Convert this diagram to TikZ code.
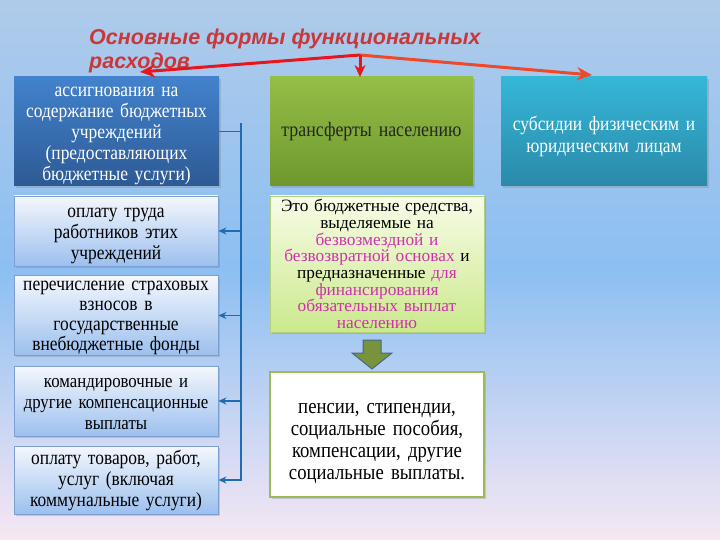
\documentclass[tikz,border=0pt]{standalone}
\usepackage{fontspec}
\setmainfont{Liberation Serif}
\newfontfamily\tall{Liberation Serif}[FakeStretch=0.87, WordSpace=0.8]
\newfontfamily\titlefont{Liberation Sans}
\usetikzlibrary{arrows.meta,shadows}
\definecolor{bgtop}{HTML}{AFCBEA}
\definecolor{bgmid}{HTML}{8CBFF2}
\definecolor{bgbot}{HTML}{F6E7F3}
\definecolor{titlered}{HTML}{C8383A}
\definecolor{redarrow}{HTML}{E8151D}
\definecolor{orarrow}{HTML}{EE4A2A}
\definecolor{blueA}{HTML}{4282CD}
\definecolor{blueAb}{HTML}{2D5A94}
\definecolor{greenT}{HTML}{94BE47}
\definecolor{greenB}{HTML}{6E982D}
\definecolor{tealT}{HTML}{35B7D8}
\definecolor{tealB}{HTML}{2B89A9}
\definecolor{lbT}{HTML}{F4F7FD}
\definecolor{lbB}{HTML}{9CC0EE}
\definecolor{lbBorder}{HTML}{7C9FD0}
\definecolor{lgT}{HTML}{F8FCE8}
\definecolor{lgB}{HTML}{CBE98C}
\definecolor{lgBorder}{HTML}{B3D07A}
\definecolor{wBorder}{HTML}{9BBB59}
\definecolor{conn}{HTML}{1F6CB5}
\definecolor{mag}{HTML}{D030B0}
\definecolor{barrow}{HTML}{77933C}
\definecolor{barrowB}{HTML}{44678A}
\newcommand{\topstrut}[1]{\rule{0pt}{#1}}
\tikzset{
  box/.style={rectangle, inner xsep=2pt, inner ysep=0pt, align=center,
    drop shadow={shadow xshift=2pt, shadow yshift=-2pt, opacity=0.3}},
  darkbox/.style={box, text=white},
  lightbox/.style={box, draw=lbBorder, line width=0.8pt, top color=lbT, bottom color=lbB,
    text width=200pt, minimum width=204pt, font=\tall\fontsize{20}{21}\selectfont},
  connline/.style={draw=conn, line width=2pt},
  connarrow/.style={draw=conn, line width=1.6pt, -{Stealth[length=8pt,width=7pt]}},
  redarr/.style={line width=3pt, -{Stealth[length=15pt,width=13pt]}}
}
\begin{document}
\begin{tikzpicture}[x=1pt,y=-1pt]
\useasboundingbox (0,0) rectangle (720,540);
\shade[top color=bgtop, bottom color=bgbot, middle color=bgmid] (0,0) rectangle (720,540);

% title
\node[anchor=north west, inner sep=0pt, align=left, text=titlered,
  font=\titlefont\bfseries\itshape\fontsize{21.5}{24}\selectfont] (title) at (89,29)
  {Основные формы функциональных\\расходов};

% top boxes
\node[darkbox, top color=blueA, bottom color=blueAb, minimum width=205pt, minimum height=109pt, text width=201pt,
  font=\tall\fontsize{20}{21}\selectfont] (A) at (116.5,131.5)
  {\topstrut{18pt}ассигнования на\\содержание бюджетных\\учреждений\\(предоставляющих\\бюджетные услуги)};
\node[darkbox, top color=greenT, bottom color=greenB, minimum width=203pt, minimum height=109pt, text width=199pt, text=black!85,
  font=\tall\fontsize{20.5}{22}\selectfont] (G) at (371.5,131.5)
  {трансферты населению};
\node[darkbox, top color=tealT, bottom color=tealB, minimum width=206pt, minimum height=109pt, text width=202pt,
  font=\tall\fontsize{20}{22}\selectfont] (T) at (604,131.5)
  {\topstrut{23.5pt}субсидии физическим и\\юридическим лицам};

% left boxes
\node[lightbox, minimum height=70pt] (L1) at (116,231) {\topstrut{19pt}оплату труда\\работников этих\\учреждений};
\node[lightbox, minimum height=79pt, font=\tall\fontsize{20}{20}\selectfont] (L2) at (116,315.5) {\topstrut{15pt}перечисление страховых\\взносов в\\государственные\\внебюджетные фонды};
\node[lightbox, minimum height=70pt, font=\tall\fontsize{19.3}{21}\selectfont] (L3) at (116,401) {\topstrut{16pt}командировочные и\\другие компенсационные\\выплаты};
\node[lightbox, minimum height=68pt] (L4) at (116,480) {оплату товаров, работ,\\услуг (включая\\коммунальные услуги)};

% middle boxes
\node[box, draw=lgBorder, line width=0.8pt, top color=lgT, bottom color=lgB, minimum width=214pt, minimum height=136pt, text width=210pt,
  font=\fontsize{17.3}{16.7}\selectfont] (LG) at (377,264)
  {Это бюджетные средства,\\выделяемые на\\\textcolor{mag}{безвозмездной и}\\\textcolor{mag}{безвозвратной основах} и\\предназначенные \textcolor{mag}{для}\\\textcolor{mag}{финансирования}\\\textcolor{mag}{обязательных выплат}\\\textcolor{mag}{населению}};
\node[box, draw=wBorder, line width=2pt, fill=white, minimum width=214pt, minimum height=125pt, text width=210pt,
  font=\tall\fontsize{21.5}{22}\selectfont] (W) at (377,434.5)
  {\topstrut{28pt}пенсии, стипендии,\\социальные пособия,\\компенсации, другие\\социальные выплаты.};

% block arrow
\draw[fill=barrow, draw=barrowB, line width=1pt] (363,340) -- (381,340) -- (381,353) -- (392,353) -- (372,369) -- (352,353) -- (363,353) -- cycle;

% connectors on the left
\coordinate (bt) at (241,123);
\coordinate (bb) at (241,481);
\draw[connline] (bt) -- (bb);
\draw[connline, line width=1.6pt] (A.east) -- (A.east -| bt);
\draw[connarrow] (L1.east -| bt) -- (L1.east);
\draw[connarrow] (L2.east -| bt) -- (L2.east);
\draw[connarrow] (L3.east -| bt) -- (L3.east);
\draw[connarrow] (L4.east -| bt) -- (L4.east);

% red arrows
\coordinate (apex) at (360,55);
\coordinate (lt) at (140,72);
\coordinate (rt) at (592,75);
\coordinate (dt) at (360,77);
\draw[redarr, draw=redarrow, fill=redarrow] (apex) -- (lt);
\draw[redarr, draw=orarrow, fill=orarrow] (apex) -- (rt);
\draw[redarr, draw=redarrow, fill=redarrow, -{Stealth[length=12pt,width=11pt]}] (apex) -- (dt);
\end{tikzpicture}
\end{document}
